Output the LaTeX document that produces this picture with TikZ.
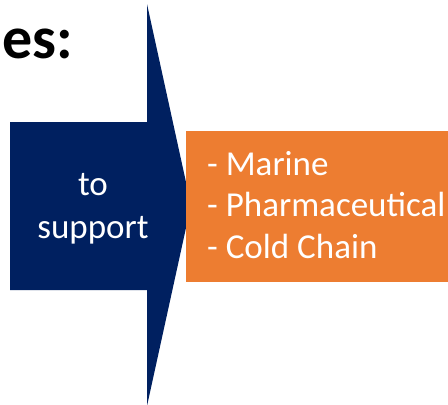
\documentclass[tikz,border=0pt]{standalone}
\usepackage{fontspec}
\setmainfont{Carlito}
\usepackage{tikz}
\usetikzlibrary{positioning}
\definecolor{arrowNavy}{RGB}{0,32,96}
\definecolor{boxOrange}{RGB}{237,125,49}

\begin{document}
\begin{tikzpicture}[x=1pt,y=-1pt,
  big/.style={font=\fontsize{60}{60}\selectfont\bfseries,inner sep=0pt},
  lbl/.style={font=\fontsize{35}{43}\selectfont,text=white,inner sep=0pt,align=center},
  itm/.style={font=\fontsize{35}{41.5}\selectfont,text=white,inner sep=0pt,align=left}
]
  \useasboundingbox (0,0) rectangle (448,405);

  % arrow
  \fill[arrowNavy] (10,122) -- (147,122) -- (147,4) -- (191,205)
     -- (147,406) -- (147,290) -- (10,290) -- cycle;
  \node[lbl](Sup) at (93,209) {to\\support};

  % box
  \fill[boxOrange] (186,131) rectangle (470,282);
  \node[itm,anchor=base west](Lst) at (207,258)
      {- Marine\\- Pharmaceutical\\- Cold Chain};

  \node[big,anchor=base west](Ttl) at (2,58) {es:};
\end{tikzpicture}
\end{document}
